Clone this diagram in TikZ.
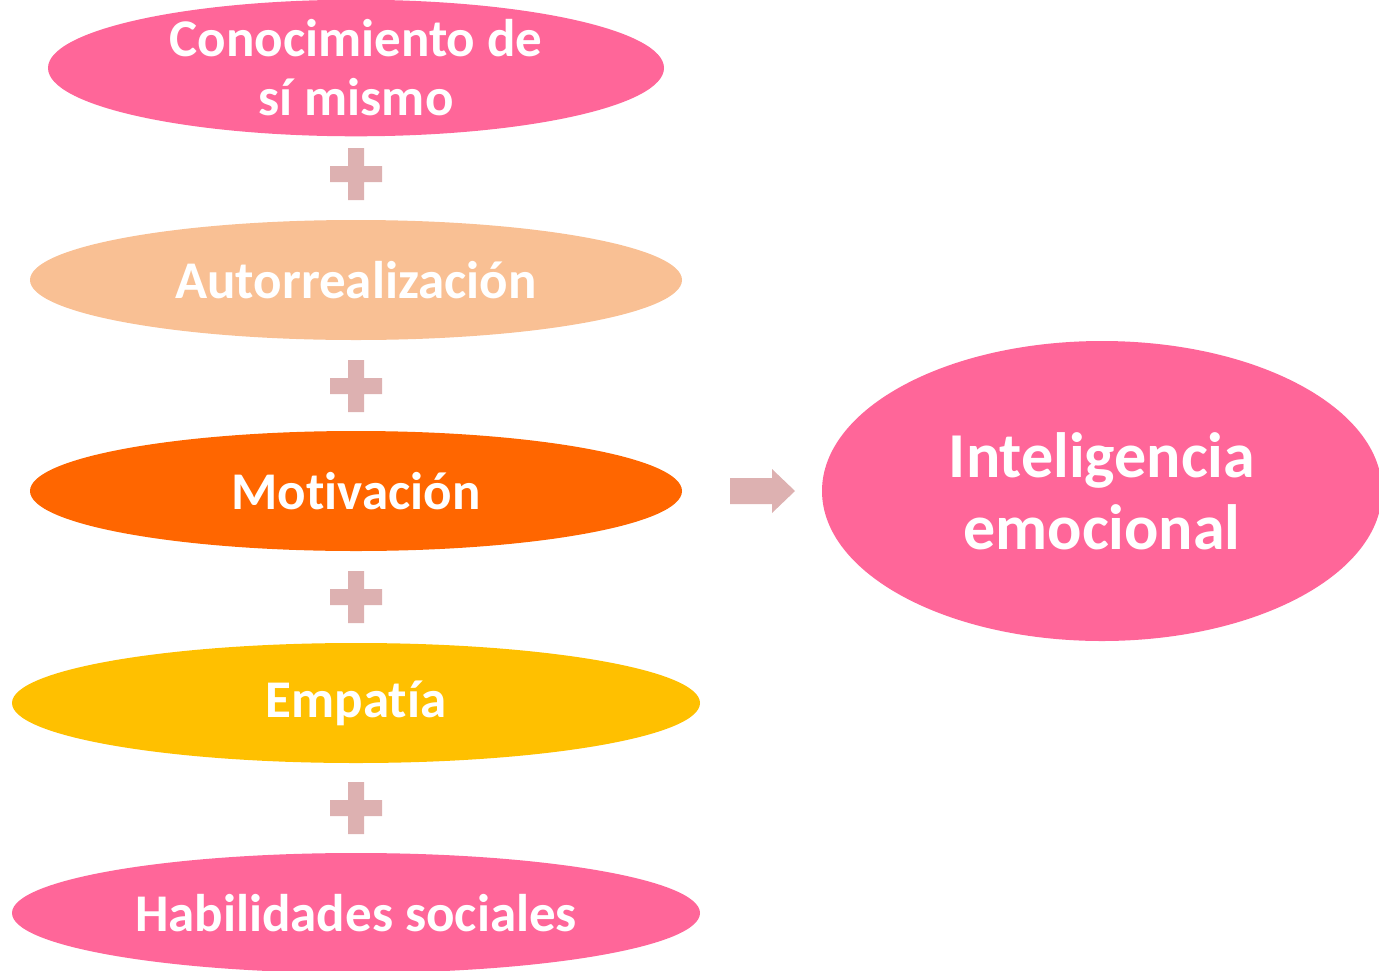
\documentclass[tikz,border=0pt]{standalone}
\usepackage{fontspec}
\setmainfont[Ligatures=NoCommon]{Carlito}
\usetikzlibrary{shapes.geometric}
\definecolor{rosa}{HTML}{FF6699}
\definecolor{melocoton}{HTML}{F9C094}
\definecolor{naranja}{HTML}{FF6600}
\definecolor{amarillo}{HTML}{FFC000}
\definecolor{signo}{HTML}{DDB1B1}
\tikzset{
  elip/.style={ellipse, inner sep=0pt, text=white, align=center,
    font=\fontsize{53}{59}\selectfont\bfseries},
  mas/.style={fill=signo, draw=none}
}
\begin{document}
\begin{tikzpicture}[x=1pt,y=-1pt]
\useasboundingbox (0,0) rectangle (1379,970);
% elipses de la columna
\node[elip, fill=rosa, minimum width=616, minimum height=120] (conoc) at (356,68) {Conocimiento de\\sí mismo};
\node[elip, fill=melocoton, minimum width=652, minimum height=120] (autor) at (356,280) {Autorrealización};
\node[elip, fill=naranja, minimum width=652, minimum height=120] (motiv) at (356,491) {Motivación};
\node[elip, fill=amarillo, minimum width=688, minimum height=120] (empat) at (356,703) {Empatía};
\node[elip, fill=rosa, minimum width=688, minimum height=120] (habil) at (356,913) {Habilidades sociales};
% resultado
\node[elip, fill=rosa, minimum width=560, minimum height=300,
  font=\fontsize{64}{72}\selectfont\bfseries] (intel) at (1102,491) {Inteligencia\\emocional};
% signos mas
\foreach \y in {174,386,597,808}
  \fill[mas] (348,\y-26) -- (364,\y-26) -- (364,\y-8) -- (382,\y-8) -- (382,\y+8)
    -- (364,\y+8) -- (364,\y+26) -- (348,\y+26) -- (348,\y+8) -- (330,\y+8)
    -- (330,\y-8) -- (348,\y-8) -- cycle;
% flecha
\fill[mas] (730,478) -- (772,478) -- (772,469) -- (795,491) -- (772,513)
  -- (772,504) -- (730,504) -- cycle;
\end{tikzpicture}
\end{document}
